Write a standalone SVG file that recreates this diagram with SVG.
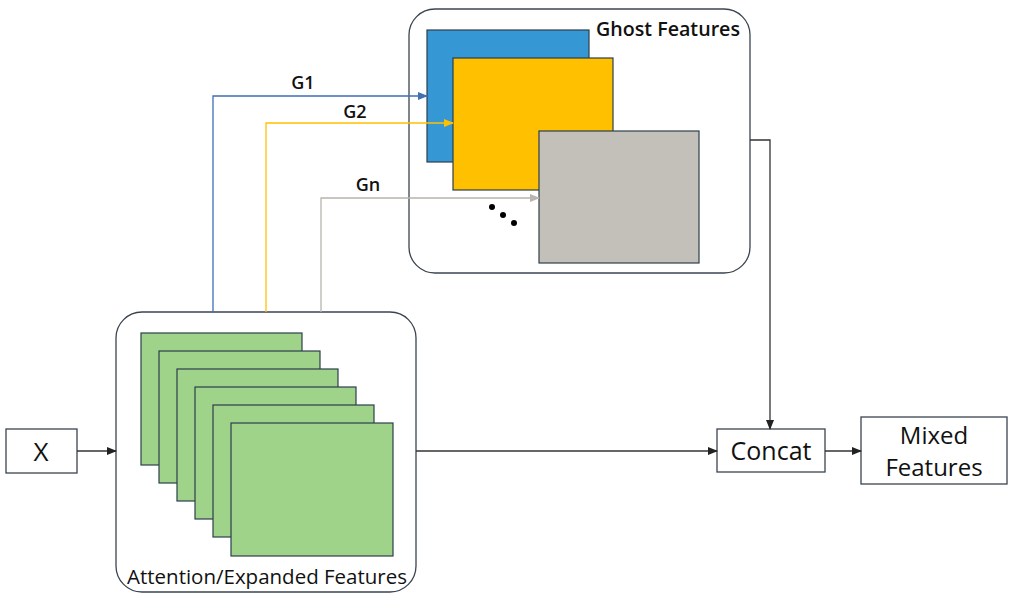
<svg xmlns="http://www.w3.org/2000/svg" width="1013" height="600" viewBox="0 0 1013 600">
<defs>
<style>
.box{fill:#fff;stroke:#3a4450;stroke-width:1.3}
.fm{stroke:#2c3e4c;stroke-width:1.2}
.t{font-family:"Open Sans","Liberation Sans",sans-serif;fill:#111}
.ln{fill:none;stroke-width:1.3}
</style>
<marker id="ak" markerWidth="10" markerHeight="8" refX="9" refY="4" orient="auto" markerUnits="userSpaceOnUse"><path d="M0,0 L10,4 L0,8 Z" fill="#222"/></marker>
<marker id="ab" markerWidth="10" markerHeight="8" refX="9" refY="4" orient="auto" markerUnits="userSpaceOnUse"><path d="M0,0 L10,4 L0,8 Z" fill="#3F6FB5"/></marker>
<marker id="ay" markerWidth="10" markerHeight="8" refX="9" refY="4" orient="auto" markerUnits="userSpaceOnUse"><path d="M0,0 L10,4 L0,8 Z" fill="#FFC000"/></marker>
<marker id="ag" markerWidth="10" markerHeight="8" refX="9" refY="4" orient="auto" markerUnits="userSpaceOnUse"><path d="M0,0 L10,4 L0,8 Z" fill="#B8B4AE"/></marker>
</defs>
<rect width="1013" height="600" fill="#fff"/>
<g id="ghost">
<rect class="box" x="409" y="9" width="341" height="264" rx="26"/>
<rect class="fm" x="427" y="30" width="162" height="132" fill="#3598D4"/>
<rect class="fm" x="453" y="58" width="160" height="132" fill="#FFC000"/>
<rect class="fm" x="539" y="131" width="160" height="132" fill="#C3C0BA"/>
<circle cx="492" cy="207" r="3" fill="#000"/>
<circle cx="503" cy="215" r="3" fill="#000"/>
<circle cx="514" cy="223" r="3" fill="#000"/>
<text class="t" x="668" y="36" font-size="19.5" text-anchor="middle" font-weight="600" textLength="144" lengthAdjust="spacingAndGlyphs">Ghost Features</text>
</g>
<g id="attention">
<rect class="box" x="116" y="312" width="300" height="280" rx="26"/>
<rect class="fm" x="141" y="333" width="161" height="132" fill="#9FD38A"/>
<rect class="fm" x="159" y="351" width="161" height="132" fill="#9FD38A"/>
<rect class="fm" x="177" y="369" width="161" height="132" fill="#9FD38A"/>
<rect class="fm" x="195" y="387" width="161" height="132" fill="#9FD38A"/>
<rect class="fm" x="213" y="405" width="161" height="132" fill="#9FD38A"/>
<rect class="fm" x="231" y="423" width="162" height="133" fill="#9FD38A"/>
<text class="t" x="267" y="584" font-size="20" text-anchor="middle" textLength="280" lengthAdjust="spacingAndGlyphs">Attention/Expanded Features</text>
</g>
<g id="x">
<rect class="box" x="6" y="429" width="71" height="44"/>
<text class="t" x="41" y="461" font-size="26" text-anchor="middle">X</text>
</g>
<g id="concat">
<rect class="box" x="717" y="429" width="108" height="43"/>
<text class="t" x="771" y="460" font-size="25" text-anchor="middle">Concat</text>
</g>
<g id="mixed">
<rect class="box" x="861" y="417" width="146" height="67"/>
<text class="t" x="934" y="444" font-size="24" text-anchor="middle">Mixed</text>
<text class="t" x="934" y="476" font-size="24" text-anchor="middle">Features</text>
</g>
<g id="connectors">
<path class="ln" d="M213,312 V96 H427" stroke="#3F6FB5" marker-end="url(#ab)"/>
<path class="ln" d="M266,312 V123 H453" stroke="#FFC000" marker-end="url(#ay)"/>
<path class="ln" d="M321,312 V198 H539" stroke="#B8B4AE" marker-end="url(#ag)"/>
<path class="ln" d="M77,451 H116" stroke="#333" marker-end="url(#ak)"/>
<path class="ln" d="M416,451 H717" stroke="#333" marker-end="url(#ak)"/>
<path class="ln" d="M825,451 H861" stroke="#333" marker-end="url(#ak)"/>
<path class="ln" d="M750,140 H770 V429" stroke="#333" marker-end="url(#ak)"/>
<text class="t" x="303" y="89" font-size="18" text-anchor="middle" font-weight="600">G1</text>
<text class="t" x="355" y="118" font-size="18" text-anchor="middle" font-weight="600">G2</text>
<text class="t" x="368" y="191" font-size="18" text-anchor="middle" font-weight="600">Gn</text>
</g>
</svg>
